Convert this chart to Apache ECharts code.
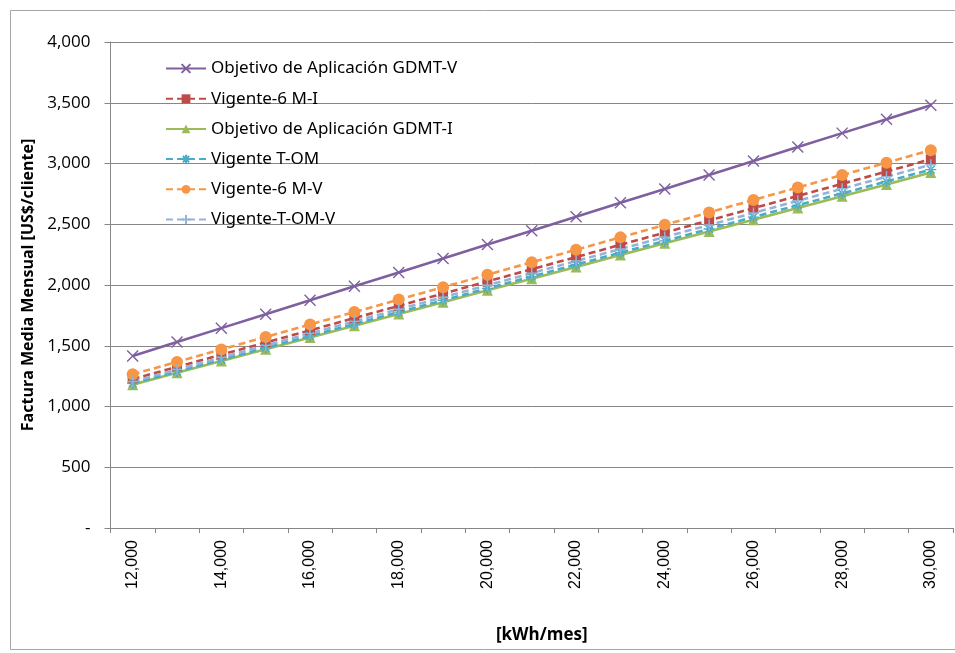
<!DOCTYPE html>
<html>
<head>
<meta charset="utf-8">
<script src="https://cdn.jsdelivr.net/npm/echarts@6/dist/echarts.min.js"></script>
<style>
html,body{margin:0;padding:0;background:#fff;}
#chart{width:955px;height:653px;}
</style>
</head>
<body>
<div id="chart"></div>
<script>
var categories = ['12,000','13,000','14,000','15,000','16,000','17,000','18,000','19,000','20,000','21,000','22,000','23,000','24,000','25,000','26,000','27,000','28,000','29,000','30,000'];
var xTickLabels = ['12,000','','14,000','','16,000','','18,000','','20,000','','22,000','','24,000','','26,000','','28,000','','30,000'];
var yTickLabels = ['-','500','1,000','1,500','2,000','2,500','3,000','3,500','4,000'];

var gdmtV   = [1415,1530,1645,1760,1874,1989,2103,2218,2333,2447,2562,2677,2791,2906,3021,3135,3250,3365,3480];
var v6MI    = [1225,1326,1426,1527,1627,1728,1828,1929,2029,2130,2230,2331,2431,2532,2632,2733,2833,2934,3035];
var gdmtI   = [1180,1277,1374,1471,1568,1665,1762,1859,1956,2052,2149,2246,2343,2440,2537,2634,2731,2828,2925];
var vTOM    = [1190,1288,1386,1483,1581,1679,1777,1874,1972,2070,2168,2266,2363,2461,2559,2657,2754,2852,2950];
var v6MV    = [1265,1367,1470,1572,1675,1777,1880,1982,2085,2187,2290,2392,2495,2597,2700,2802,2905,3007,3110];
var vTOMV   = [1205,1304,1403,1503,1602,1701,1800,1899,1998,2098,2197,2296,2395,2494,2593,2693,2792,2891,2990];

var seriesNames = ['Objetivo de Aplicación GDMT-V','Vigente-6 M-I','Objetivo de Aplicación GDMT-I','Vigente T-OM','Vigente-6 M-V','Vigente-T-OM-V'];

var X_PATH = 'path://M0,0L10,10M10,0L0,10';
var AST_PATH = 'path://M0,5L10,5M5,0L5,10M1.5,1.5L8.5,8.5M8.5,1.5L1.5,8.5';
var PLUS_PATH = 'path://M0,5L10,5M5,0L5,10';

function mk(name, data, color, dashed, symbol, size, stroke) {
  return {
    name: name, type: 'line', data: data,
    symbol: symbol, symbolSize: size,
    lineStyle: { color: color, width: 2.6, type: dashed ? [7,4] : 'solid' },
    itemStyle: stroke ? { color: color, borderColor: color, borderWidth: 1.4 } : { color: color, borderWidth: 0 },
    emphasis: { disabled: true },
    animation: false
  };
}

var chart = echarts.init(document.getElementById('chart'), null, {renderer:'canvas'});
chart.setOption({
  backgroundColor: '#fff',
  animation: false,
  graphic: [{
    type: 'rect', shape: { x: 10.5, y: 10.5, width: 960, height: 639 },
    style: { fill: 'none', stroke: '#a6a6a6', lineWidth: 1 }, silent: true
  }],
  grid: { left: 110.5, right: 2, top: 42, bottom: 125, containLabel: false },
  legend: {
    orient: 'vertical', left: 160, top: 55,
    itemWidth: 40, itemHeight: 11, itemGap: 13.2,
    textStyle: { fontFamily: 'Noto Sans', fontSize: 17, color: '#000' },
    data: seriesNames
  },
  xAxis: {
    type: 'category', data: categories, boundaryGap: true,
    name: '[kWh/mes]', nameLocation: 'middle', nameGap: 99,
    nameTextStyle: { fontFamily: 'Open Sans', fontWeight: 'bold', fontSize: 17, color: '#000', padding: [0,0,0,20] },
    axisLine: { lineStyle: { color: '#868686', width: 1 } },
    axisTick: { show: true, alignWithLabel: false, interval: 0, length: 5, lineStyle: { color: '#868686' } },
    axisLabel: {
      interval: 0, rotate: 90, margin: 12,
      fontFamily: 'Liberation Sans', fontSize: 16, color: '#000',
      formatter: function (v, i) { return xTickLabels[i]; }
    },
    splitLine: { show: false }
  },
  yAxis: {
    type: 'value', min: 0, max: 4000, interval: 500,
    name: 'Factura Media Mensual [US$/cliente]', nameLocation: 'middle', nameGap: 71,
    nameTextStyle: { fontFamily: 'Open Sans', fontWeight: 'bold', fontSize: 16, color: '#000' },
    axisLine: { show: true, lineStyle: { color: '#868686', width: 1 } },
    axisTick: { show: true, length: 6, lineStyle: { color: '#868686' } },
    axisLabel: {
      margin: 20, fontFamily: 'Open Sans', fontSize: 17, color: '#000',
      formatter: function (v) { return yTickLabels[Math.round(v / 500)]; }
    },
    splitLine: { show: true, lineStyle: { color: '#868686', width: 1 } }
  },
  series: [
    mk(seriesNames[0], gdmtV, '#7E60A0', false, X_PATH, 11, true),
    mk(seriesNames[1], v6MI, '#BE4B48', true, 'rect', 10, false),
    mk(seriesNames[2], gdmtI, '#9BBB59', false, 'triangle', 11, false),
    mk(seriesNames[3], vTOM, '#4BACC6', true, AST_PATH, 11, true),
    mk(seriesNames[4], v6MV, '#F79646', true, 'circle', 12, false),
    mk(seriesNames[5], vTOMV, '#95B3D7', true, PLUS_PATH, 11, true)
  ]
});
</script>
</body>
</html>
